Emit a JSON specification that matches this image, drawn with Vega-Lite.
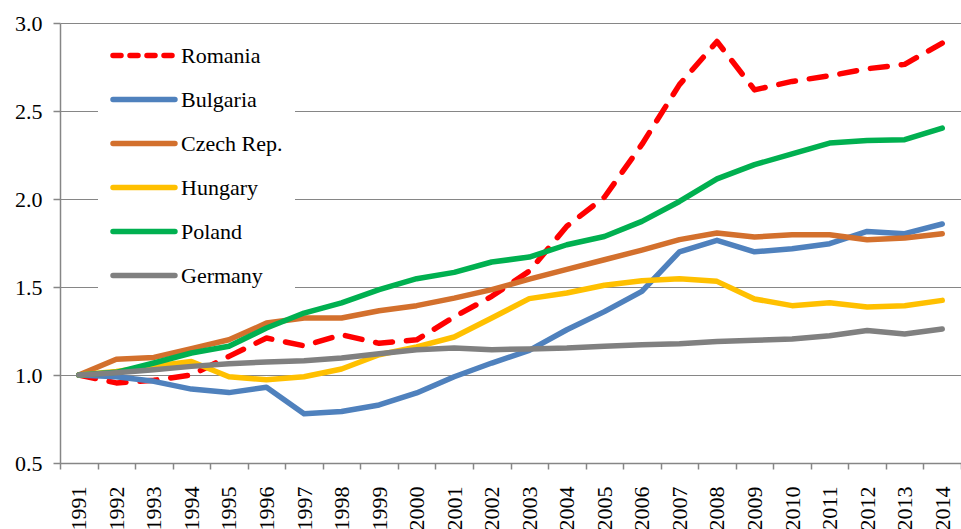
{
  "$schema": "https://vega.github.io/schema/vega-lite/v6.json",
  "width": 901,
  "height": 440,
  "autosize": {"type": "none"},
  "padding": {"left": 60, "top": 23, "right": 0, "bottom": 66},
  "background": "white",
  "config": {
    "view": {"stroke": null},
    "font": "Liberation Serif"
  },
  "data": {"values": [
    {"country":"Romania","year":"1991","value":1.0},{"country":"Romania","year":"1992","value":0.955},{"country":"Romania","year":"1993","value":0.97},{"country":"Romania","year":"1994","value":1.0},{"country":"Romania","year":"1995","value":1.106},{"country":"Romania","year":"1996","value":1.21},{"country":"Romania","year":"1997","value":1.166},{"country":"Romania","year":"1998","value":1.229},{"country":"Romania","year":"1999","value":1.18},{"country":"Romania","year":"2000","value":1.2},{"country":"Romania","year":"2001","value":1.33},{"country":"Romania","year":"2002","value":1.447},{"country":"Romania","year":"2003","value":1.59},{"country":"Romania","year":"2004","value":1.845},{"country":"Romania","year":"2005","value":2.01},{"country":"Romania","year":"2006","value":2.31},{"country":"Romania","year":"2007","value":2.65},{"country":"Romania","year":"2008","value":2.895},{"country":"Romania","year":"2009","value":2.62},{"country":"Romania","year":"2010","value":2.668},{"country":"Romania","year":"2011","value":2.7},{"country":"Romania","year":"2012","value":2.74},{"country":"Romania","year":"2013","value":2.765},{"country":"Romania","year":"2014","value":2.886},
    {"country":"Bulgaria","year":"1991","value":1.0},{"country":"Bulgaria","year":"1992","value":0.99},{"country":"Bulgaria","year":"1993","value":0.964},{"country":"Bulgaria","year":"1994","value":0.92},{"country":"Bulgaria","year":"1995","value":0.9},{"country":"Bulgaria","year":"1996","value":0.93},{"country":"Bulgaria","year":"1997","value":0.78},{"country":"Bulgaria","year":"1998","value":0.793},{"country":"Bulgaria","year":"1999","value":0.83},{"country":"Bulgaria","year":"2000","value":0.898},{"country":"Bulgaria","year":"2001","value":0.99},{"country":"Bulgaria","year":"2002","value":1.068},{"country":"Bulgaria","year":"2003","value":1.14},{"country":"Bulgaria","year":"2004","value":1.257},{"country":"Bulgaria","year":"2005","value":1.36},{"country":"Bulgaria","year":"2006","value":1.475},{"country":"Bulgaria","year":"2007","value":1.7},{"country":"Bulgaria","year":"2008","value":1.765},{"country":"Bulgaria","year":"2009","value":1.7},{"country":"Bulgaria","year":"2010","value":1.717},{"country":"Bulgaria","year":"2011","value":1.746},{"country":"Bulgaria","year":"2012","value":1.816},{"country":"Bulgaria","year":"2013","value":1.803},{"country":"Bulgaria","year":"2014","value":1.858},
    {"country":"Czech Rep.","year":"1991","value":1.0},{"country":"Czech Rep.","year":"1992","value":1.09},{"country":"Czech Rep.","year":"1993","value":1.1},{"country":"Czech Rep.","year":"1994","value":1.15},{"country":"Czech Rep.","year":"1995","value":1.2},{"country":"Czech Rep.","year":"1996","value":1.295},{"country":"Czech Rep.","year":"1997","value":1.324},{"country":"Czech Rep.","year":"1998","value":1.324},{"country":"Czech Rep.","year":"1999","value":1.365},{"country":"Czech Rep.","year":"2000","value":1.394},{"country":"Czech Rep.","year":"2001","value":1.437},{"country":"Czech Rep.","year":"2002","value":1.485},{"country":"Czech Rep.","year":"2003","value":1.545},{"country":"Czech Rep.","year":"2004","value":1.6},{"country":"Czech Rep.","year":"2005","value":1.655},{"country":"Czech Rep.","year":"2006","value":1.71},{"country":"Czech Rep.","year":"2007","value":1.769},{"country":"Czech Rep.","year":"2008","value":1.807},{"country":"Czech Rep.","year":"2009","value":1.784},{"country":"Czech Rep.","year":"2010","value":1.797},{"country":"Czech Rep.","year":"2011","value":1.797},{"country":"Czech Rep.","year":"2012","value":1.769},{"country":"Czech Rep.","year":"2013","value":1.778},{"country":"Czech Rep.","year":"2014","value":1.803},
    {"country":"Hungary","year":"1991","value":1.0},{"country":"Hungary","year":"1992","value":1.02},{"country":"Hungary","year":"1993","value":1.05},{"country":"Hungary","year":"1994","value":1.077},{"country":"Hungary","year":"1995","value":0.99},{"country":"Hungary","year":"1996","value":0.973},{"country":"Hungary","year":"1997","value":0.99},{"country":"Hungary","year":"1998","value":1.034},{"country":"Hungary","year":"1999","value":1.115},{"country":"Hungary","year":"2000","value":1.16},{"country":"Hungary","year":"2001","value":1.216},{"country":"Hungary","year":"2002","value":1.324},{"country":"Hungary","year":"2003","value":1.434},{"country":"Hungary","year":"2004","value":1.466},{"country":"Hungary","year":"2005","value":1.51},{"country":"Hungary","year":"2006","value":1.536},{"country":"Hungary","year":"2007","value":1.547},{"country":"Hungary","year":"2008","value":1.532},{"country":"Hungary","year":"2009","value":1.432},{"country":"Hungary","year":"2010","value":1.394},{"country":"Hungary","year":"2011","value":1.41},{"country":"Hungary","year":"2012","value":1.386},{"country":"Hungary","year":"2013","value":1.394},{"country":"Hungary","year":"2014","value":1.424},
    {"country":"Poland","year":"1991","value":1.0},{"country":"Poland","year":"1992","value":1.015},{"country":"Poland","year":"1993","value":1.068},{"country":"Poland","year":"1994","value":1.125},{"country":"Poland","year":"1995","value":1.163},{"country":"Poland","year":"1996","value":1.267},{"country":"Poland","year":"1997","value":1.352},{"country":"Poland","year":"1998","value":1.41},{"country":"Poland","year":"1999","value":1.485},{"country":"Poland","year":"2000","value":1.547},{"country":"Poland","year":"2001","value":1.583},{"country":"Poland","year":"2002","value":1.642},{"country":"Poland","year":"2003","value":1.67},{"country":"Poland","year":"2004","value":1.74},{"country":"Poland","year":"2005","value":1.787},{"country":"Poland","year":"2006","value":1.873},{"country":"Poland","year":"2007","value":1.986},{"country":"Poland","year":"2008","value":2.114},{"country":"Poland","year":"2009","value":2.195},{"country":"Poland","year":"2010","value":2.257},{"country":"Poland","year":"2011","value":2.318},{"country":"Poland","year":"2012","value":2.333},{"country":"Poland","year":"2013","value":2.337},{"country":"Poland","year":"2014","value":2.403},
    {"country":"Germany","year":"1991","value":1.0},{"country":"Germany","year":"1992","value":1.013},{"country":"Germany","year":"1993","value":1.03},{"country":"Germany","year":"1994","value":1.049},{"country":"Germany","year":"1995","value":1.064},{"country":"Germany","year":"1996","value":1.074},{"country":"Germany","year":"1997","value":1.081},{"country":"Germany","year":"1998","value":1.097},{"country":"Germany","year":"1999","value":1.121},{"country":"Germany","year":"2000","value":1.144},{"country":"Germany","year":"2001","value":1.153},{"country":"Germany","year":"2002","value":1.144},{"country":"Germany","year":"2003","value":1.148},{"country":"Germany","year":"2004","value":1.153},{"country":"Germany","year":"2005","value":1.163},{"country":"Germany","year":"2006","value":1.172},{"country":"Germany","year":"2007","value":1.178},{"country":"Germany","year":"2008","value":1.19},{"country":"Germany","year":"2009","value":1.197},{"country":"Germany","year":"2010","value":1.204},{"country":"Germany","year":"2011","value":1.223},{"country":"Germany","year":"2012","value":1.253},{"country":"Germany","year":"2013","value":1.233},{"country":"Germany","year":"2014","value":1.261}
  ]},
  "encoding": {
    "x": {
      "field": "year", "type": "ordinal", "bandPosition": 0.5,
      "scale": {"type": "band", "paddingInner": 0, "paddingOuter": 0},
      "axis": {
        "title": null, "tickBand": "extent", "labelAngle": -90, "labelFontSize": 22,
        "labelFont": "Liberation Serif", "labelColor": "black", "labelPadding": 17,
        "domainColor": "#868686", "domainWidth": 1.5, "tickColor": "#868686", "tickSize": 6, "tickWidth": 1.5,
        "grid": false
      }
    },
    "y": {
      "field": "value", "type": "quantitative",
      "scale": {"domain": [0.5, 3.0], "nice": false, "zero": false},
      "axis": {
        "title": null, "values": [0.5, 1.0, 1.5, 2.0, 2.5, 3.0], "format": ".1f",
        "labelFontSize": 22, "labelFont": "Liberation Serif", "labelColor": "black", "labelPadding": 11,
        "domainColor": "#868686", "domainWidth": 1.5, "tickColor": "#868686", "tickSize": 7, "tickWidth": 1.5,
        "grid": true, "gridColor": "#868686", "gridWidth": 1.2
      }
    },
    "color": {
      "field": "country", "type": "nominal", "sort": null,
      "scale": {
        "domain": ["Romania", "Bulgaria", "Czech Rep.", "Hungary", "Poland", "Germany"],
        "range": ["#FF0000", "#4F81BD", "#D3702D", "#FFC000", "#00B050", "#808080"]
      },
      "legend": {
        "title": null, "orient": "none", "legendX": 38, "legendY": 7,
        "fillColor": "white", "padding": 12,
        "symbolType": "M-1,0H4.9", "symbolSize": 441, "symbolStrokeWidth": 5.5,
        "labelFontSize": 22, "labelFont": "Liberation Serif", "labelColor": "black",
        "labelOffset": 44, "rowPadding": 19,
        "encode": {"symbols": {"update": {
          "strokeDash": {"signal": "datum.value === 'Romania' ? [8, 9] : [1, 0]"},
          "strokeCap": {"value": "round"}
        }}}
      }
    }
  },
  "layer": [
    {
      "transform": [{"filter": "datum.country === 'Romania'"}],
      "mark": {"type": "line", "strokeWidth": 5.5, "strokeCap": "round", "strokeJoin": "round", "strokeDash": [17, 14]}
    },
    {
      "transform": [{"filter": "datum.country !== 'Romania'"}],
      "mark": {"type": "line", "strokeWidth": 5.5, "strokeCap": "round", "strokeJoin": "round"}
    }
  ]
}
